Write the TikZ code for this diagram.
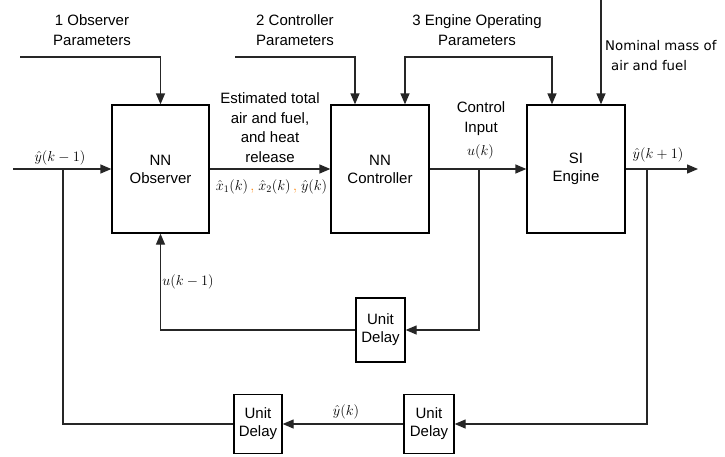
\documentclass[tikz,border=0pt]{standalone}
\usepackage{fontspec}
\setmainfont{Liberation Sans}
\newfontfamily\nomfont{DejaVu Sans}
\usetikzlibrary{arrows.meta}
\begin{document}
\begin{tikzpicture}[x=1pt,y=-1pt,
  blk/.style={draw, line width=1.3pt, rectangle, inner sep=0pt, align=center,
    font=\fontsize{15}{18}\selectfont},
  lbl/.style={align=center, inner sep=0pt, font=\fontsize{15}{19.5}\selectfont},
  mlbl/.style={inner sep=0pt, font=\fontsize{14.5}{16}\selectfont},
  wire/.style={line width=1.3pt, color=black!85},
  arr/.style={wire, -{Triangle[length=11pt,width=9pt]}}]
\useasboundingbox (0,0) rectangle (725,456);
% blocks
\node[blk, minimum width=97pt, minimum height=128pt] (obs) at (160.5,169) {NN\\Observer};
\node[blk, minimum width=98pt, minimum height=128pt] (ctrl) at (380,169) {NN\\Controller};
\node[blk, minimum width=98pt, minimum height=128pt] (eng) at (576,169) {SI\\Engine};
\node[blk, minimum width=49pt, minimum height=64pt] (d1) at (380.5,330) {Unit\\Delay};
\node[blk, minimum width=48pt, minimum height=59pt] (d2) at (258,424) {Unit\\Delay};
\node[blk, minimum width=50pt, minimum height=59pt] (d3) at (429,424) {Unit\\Delay};
% coordinates
\coordinate (in) at (13,169);
\coordinate (brA) at (63,169);
\coordinate (bu) at (479,169);
\coordinate (by) at (647,169);
\coordinate (out) at (698,169);
\coordinate (p1) at (20,57);
\coordinate (p2) at (235,57);
\coordinate (p3) at (478,57);
\coordinate (nm) at (601,0);
% main path
\draw[arr] (in) -- (obs.west);
\draw[arr] (obs.east) -- (ctrl.west);
\draw[arr] (ctrl.east) -- (eng.west);
\draw[arr] (eng.east) -- (out);
% feedback
\draw[arr] (bu) |- (d1.east);
\draw[arr] (d1.west) -| (obs.south);
\draw[arr] (by) |- (d3.east);
\draw[arr] (d3.west) -- (d2.east);
\draw[wire] (d2.west) -| (brA);
% parameter inputs
\draw[arr] (p1) -| (obs.north);
\draw[arr] (p2) -| ([xshift=-25pt]ctrl.north);
\draw[arr] (p3) -| ([xshift=25pt]ctrl.north);
\draw[arr] (p3) -| ([xshift=-24pt]eng.north);
\draw[arr] (nm) -- ([xshift=25pt]eng.north);
% labels
\node[lbl] (t1) at (92,30) {1 Observer\\Parameters};
\node[lbl] (t2) at (295,30) {2 Controller\\Parameters};
\node[lbl] (t3) at (477,30) {3 Engine Operating\\Parameters};
\node[anchor=north west, align=left, inner sep=0pt,
  font=\nomfont\fontsize{13.3}{20}\selectfont] (tn) at (605,40)
  {Nominal mass of\\\hspace{6pt}air and fuel};
\node[lbl] (te) at (270,127.5) {Estimated total\\air and fuel,\\and heat\\release};
\node[mlbl] (tx) at (271.5,187) {$\hat{x}_1(k)\,\textcolor{orange}{,}\;\hat{x}_2(k)\,\textcolor{orange}{,}\;\hat{y}(k)$};
\node[lbl] (tc) at (481,118.5) {Control\\Input};
\node[mlbl] (tu) at (480.5,152) {$u(k)$};
\node[mlbl] (ty1) at (60,158) {$\hat{y}(k-1)$};
\node[mlbl] (ty2) at (658,155) {$\hat{y}(k+1)$};
\node[mlbl] (tu1) at (188,282) {$u(k-1)$};
\node[mlbl] (ty0) at (346,412) {$\hat{y}(k)$};
\end{tikzpicture}
\end{document}
